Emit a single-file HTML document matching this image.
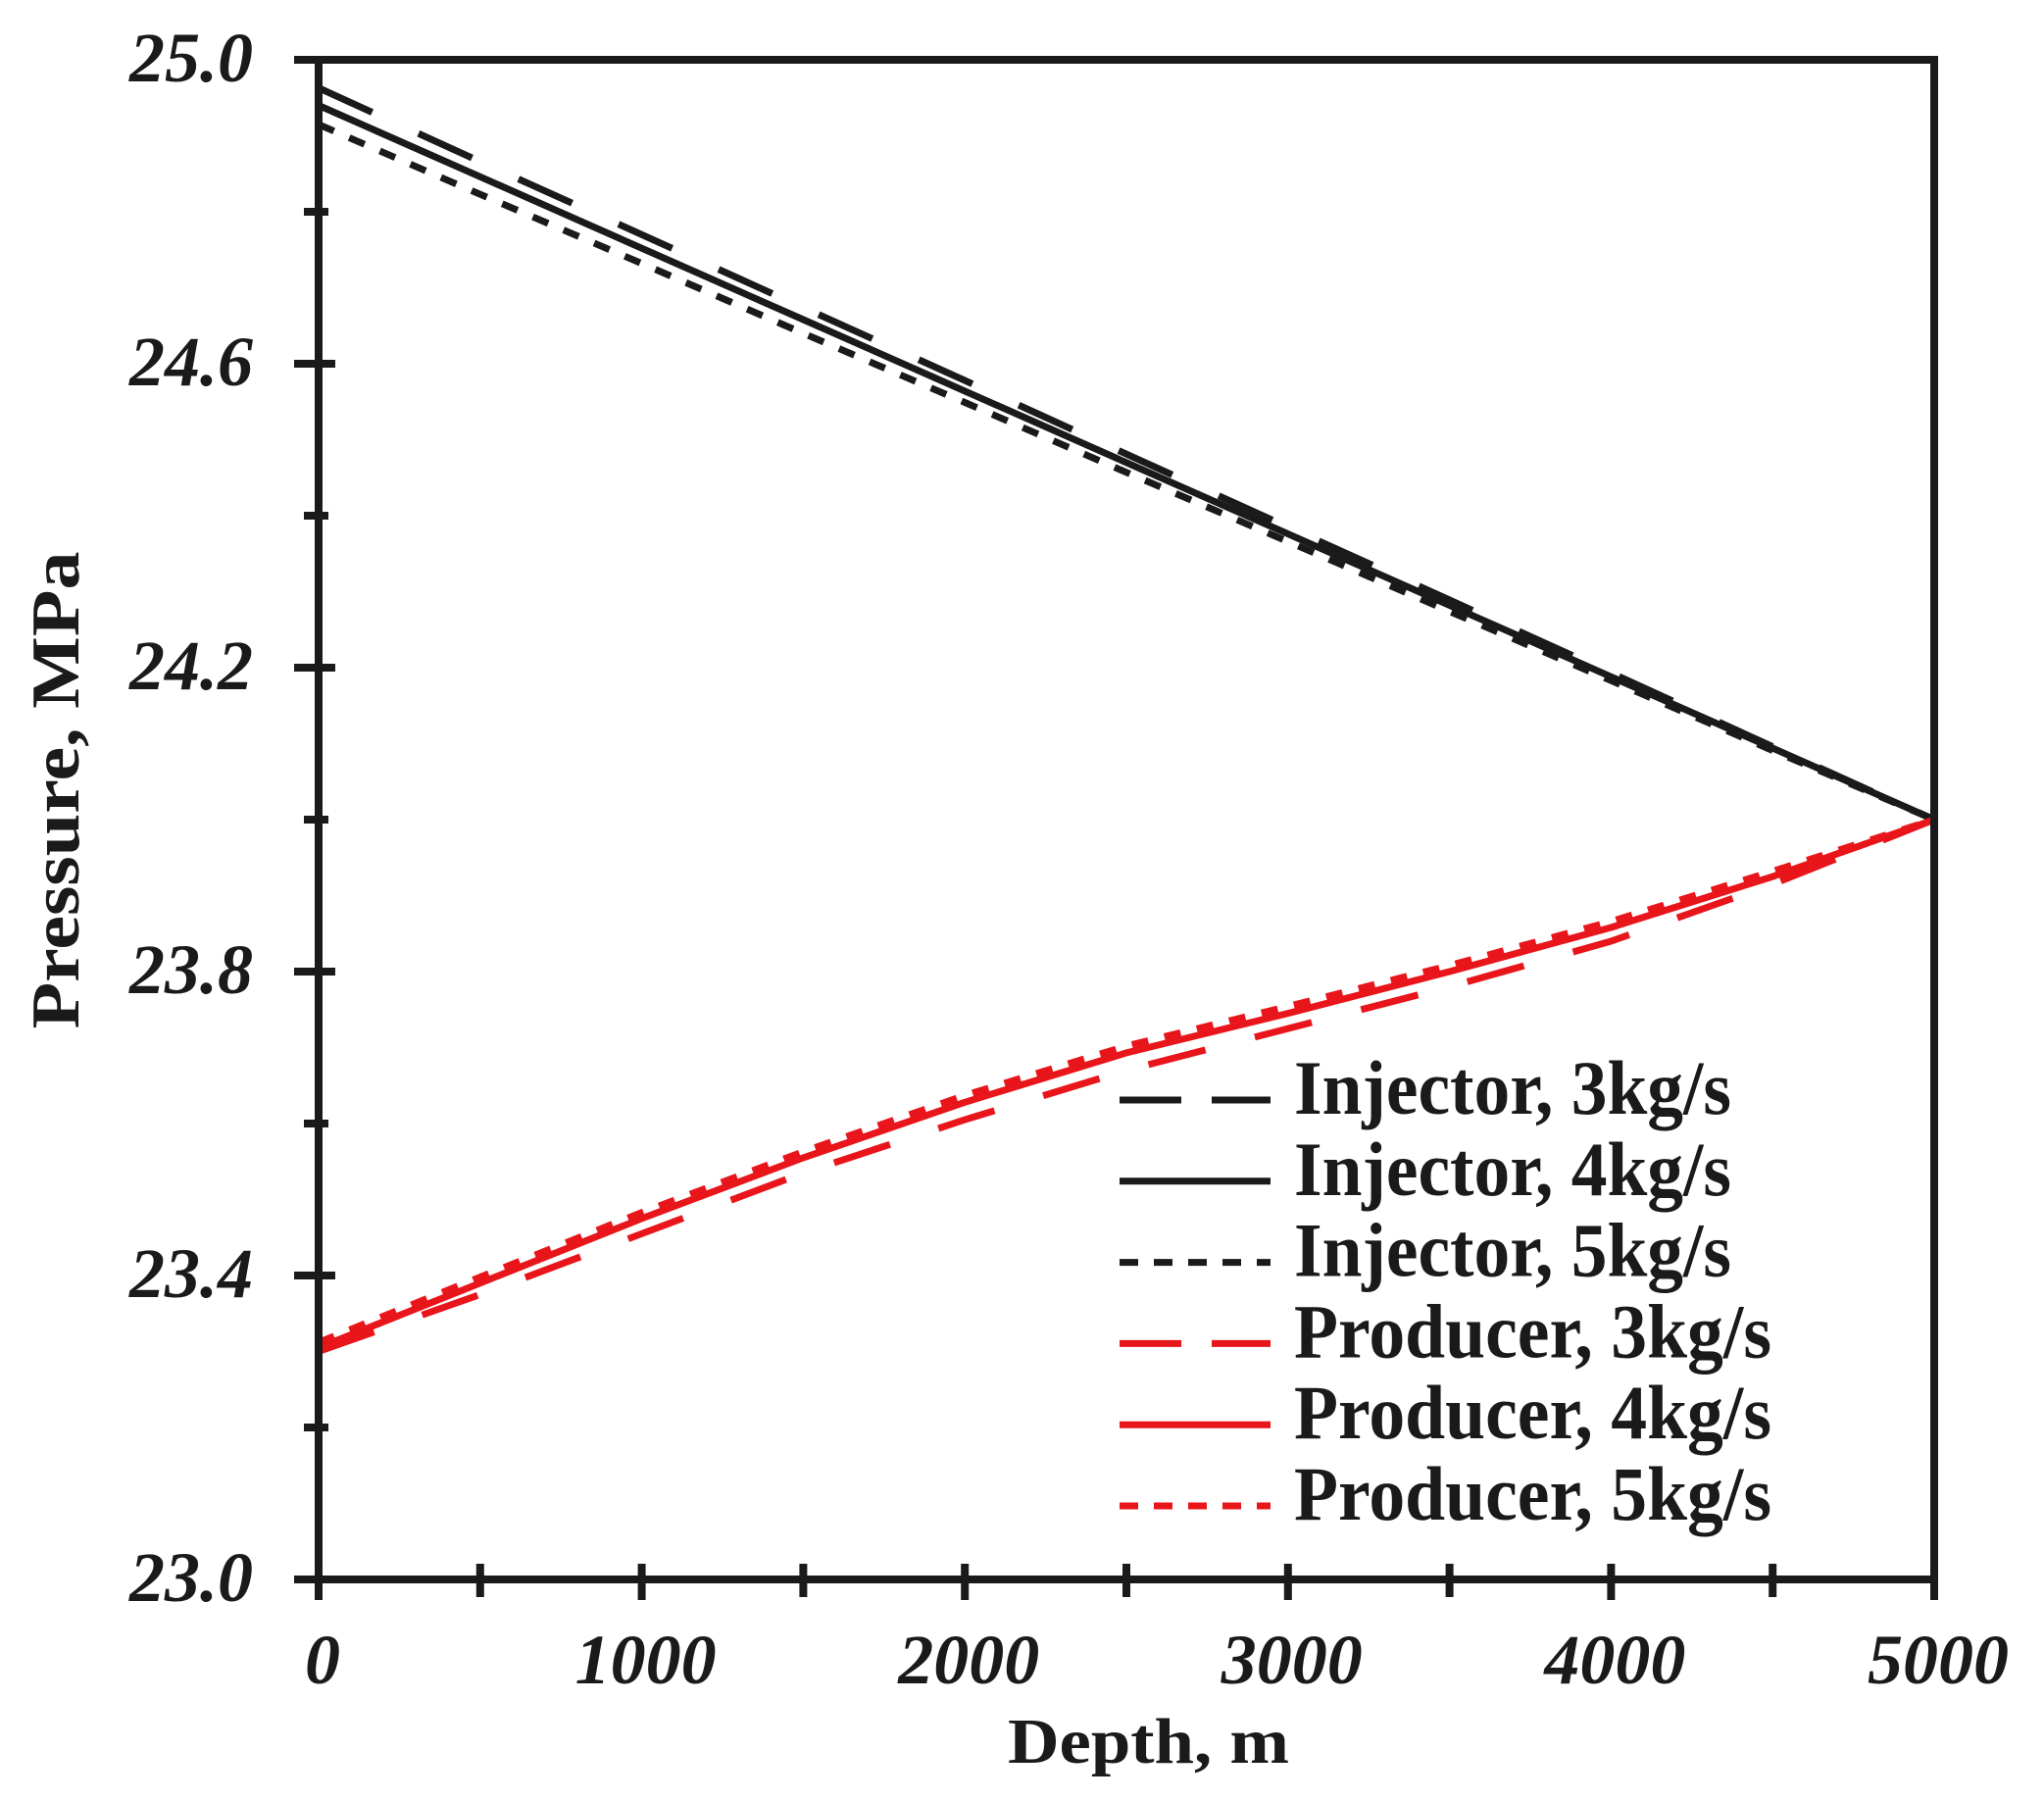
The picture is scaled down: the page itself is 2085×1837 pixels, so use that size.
<!DOCTYPE html>
<html><head><meta charset="utf-8"><style>
html,body{margin:0;padding:0;background:#fff;}
svg{display:block;}
</style></head><body>
<svg id="chart" width="2085" height="1837" viewBox="0 0 2085 1837" xmlns="http://www.w3.org/2000/svg">
<g id="series-layer"></g>
<g id="axes-layer"></g>
<g id="legend"></g>
</svg>
<script>
const depths = [0,500,1000,1500,2000,2500,3000,3500,4000,4500,5000];
const injector3 = [24.963,24.866,24.770,24.674,24.578,24.481,24.385,24.289,24.193,24.096,24.0];
const injector4 = [24.940,24.846,24.752,24.658,24.564,24.470,24.376,24.282,24.188,24.094,24.0];
const injector5 = [24.915,24.823,24.732,24.640,24.549,24.457,24.366,24.274,24.183,24.091,24.0];
const producer3 = [23.300,23.375,23.455,23.535,23.605,23.670,23.725,23.780,23.840,23.915,24.0];
const producer4 = [23.305,23.390,23.475,23.555,23.628,23.693,23.745,23.800,23.858,23.925,24.0];
const producer5 = [23.312,23.398,23.483,23.563,23.637,23.702,23.754,23.808,23.866,23.932,24.0];
const xTicks = [0,1000,2000,3000,4000,5000];
const xMinorTicks = [500,1500,2500,3500,4500];
const yTicks = [23.0,23.4,23.8,24.2,24.6,25.0];
const yTickLabels = ["23.0","23.4","23.8","24.2","24.6","25.0"];
const yMinorTicks = [23.2,23.6,24.0,24.4,24.8];
const legendLabels = ["Injector, 3kg/s","Injector, 4kg/s","Injector, 5kg/s","Producer, 3kg/s","Producer, 4kg/s","Producer, 5kg/s"];

const NS = "http://www.w3.org/2000/svg";
const X0=325, X1=1973, Y0=1611, Y1=61;
function xs(v){return X0+(v-0)/(5000-0)*(X1-X0);}
function ys(v){return Y0-(v-23.0)/(25.0-23.0)*(Y0-Y1);}
function mk(tag, attrs, parent){const e=document.createElementNS(NS,tag);for(const k in attrs)e.setAttribute(k,attrs[k]);parent.appendChild(e);return e;}

const series=[
 {vals:injector3,color:"#1a1a1a",dash:"60,52",name:"injector-3kgs-line"},
 {vals:injector4,color:"#1a1a1a",dash:"",name:"injector-4kgs-line"},
 {vals:injector5,color:"#1a1a1a",dash:"17,17",name:"injector-5kgs-line"},
 {vals:producer3,color:"#e8151b",dash:"60,52",name:"producer-3kgs-line"},
 {vals:producer4,color:"#e8151b",dash:"",name:"producer-4kgs-line"},
 {vals:producer5,color:"#e8151b",dash:"17,17",name:"producer-5kgs-line"}
];
const sl=document.getElementById('series-layer');
series.forEach(s=>{
  const pts=depths.map((d,i)=>xs(d).toFixed(1)+","+ys(s.vals[i]).toFixed(1)).join(" ");
  const p=mk('polyline',{points:pts,fill:"none",stroke:s.color,"stroke-width":7,"stroke-dasharray":s.dash,"stroke-linejoin":"round"},sl);
  
  
});

const al=document.getElementById('axes-layer');
const frame=mk('rect',{x:X0,y:Y1,width:X1-X0,height:Y0-Y1,fill:"none",stroke:"#1a1a1a","stroke-width":8},al);


xTicks.forEach(t=>{
  const l=mk('line',{x1:xs(t),x2:xs(t),y1:Y0-16,y2:Y0+21,stroke:"#1a1a1a","stroke-width":8},al);
  
  
  const tx=mk('text',{x:xs(t)+4,y:1717,"text-anchor":"middle","font-family":"Liberation Serif, serif","font-size":72,"font-weight":"bold","font-style":"italic",fill:"#1a1a1a"},al);
  tx.textContent=String(t);
  
  
});
xMinorTicks.forEach(t=>{
  const l=mk('line',{x1:xs(t),x2:xs(t),y1:Y0-16,y2:Y0+18,stroke:"#1a1a1a","stroke-width":8},al);
  
  
});
yTicks.forEach((t,i)=>{
  const l=mk('line',{x1:X0-25,x2:X0+17,y1:ys(t),y2:ys(t),stroke:"#1a1a1a","stroke-width":8},al);
  
  
  const tx=mk('text',{x:258,y:ys(t)+22,"text-anchor":"end","font-family":"Liberation Serif, serif","font-size":72,"font-weight":"bold","font-style":"italic",fill:"#1a1a1a"},al);
  tx.textContent=yTickLabels[i];
  
  
});
yMinorTicks.forEach(t=>{
  const l=mk('line',{x1:X0-15,x2:X0+10,y1:ys(t),y2:ys(t),stroke:"#1a1a1a","stroke-width":8},al);
  
  
});
const xt=mk('text',{x:1028,y:1798,"font-family":"Liberation Serif, serif","font-size":66,"font-weight":"bold",fill:"#1a1a1a",textLength:287,lengthAdjust:"spacingAndGlyphs"},al);
xt.textContent="Depth, m";


const yt=mk('text',{x:0,y:0,"text-anchor":"middle","font-family":"Liberation Serif, serif","font-size":70,"font-weight":"bold",fill:"#1a1a1a",textLength:487,lengthAdjust:"spacingAndGlyphs",transform:"translate(80,806) rotate(-90)"},al);
yt.textContent="Pressure, MPa";



const lg=document.getElementById('legend');
series.forEach((s,i)=>{
  const y=1122+i*82.8;
  const l=mk('line',{x1:1142,x2:1296,y1:y,y2:y,stroke:s.color,"stroke-width":7,"stroke-dasharray":s.dash?(s.dash==="60,52"?"63,31":"19,16"):""},lg);
  
  
  const t=mk('text',{x:1320,y:y+14,"font-family":"Liberation Serif, serif","font-size":78,"font-weight":"bold",fill:"#1a1a1a",textLength:(i<3?446:487),lengthAdjust:"spacingAndGlyphs"},lg);
  t.textContent=legendLabels[i];
  
  
});
</script>
</body></html>
